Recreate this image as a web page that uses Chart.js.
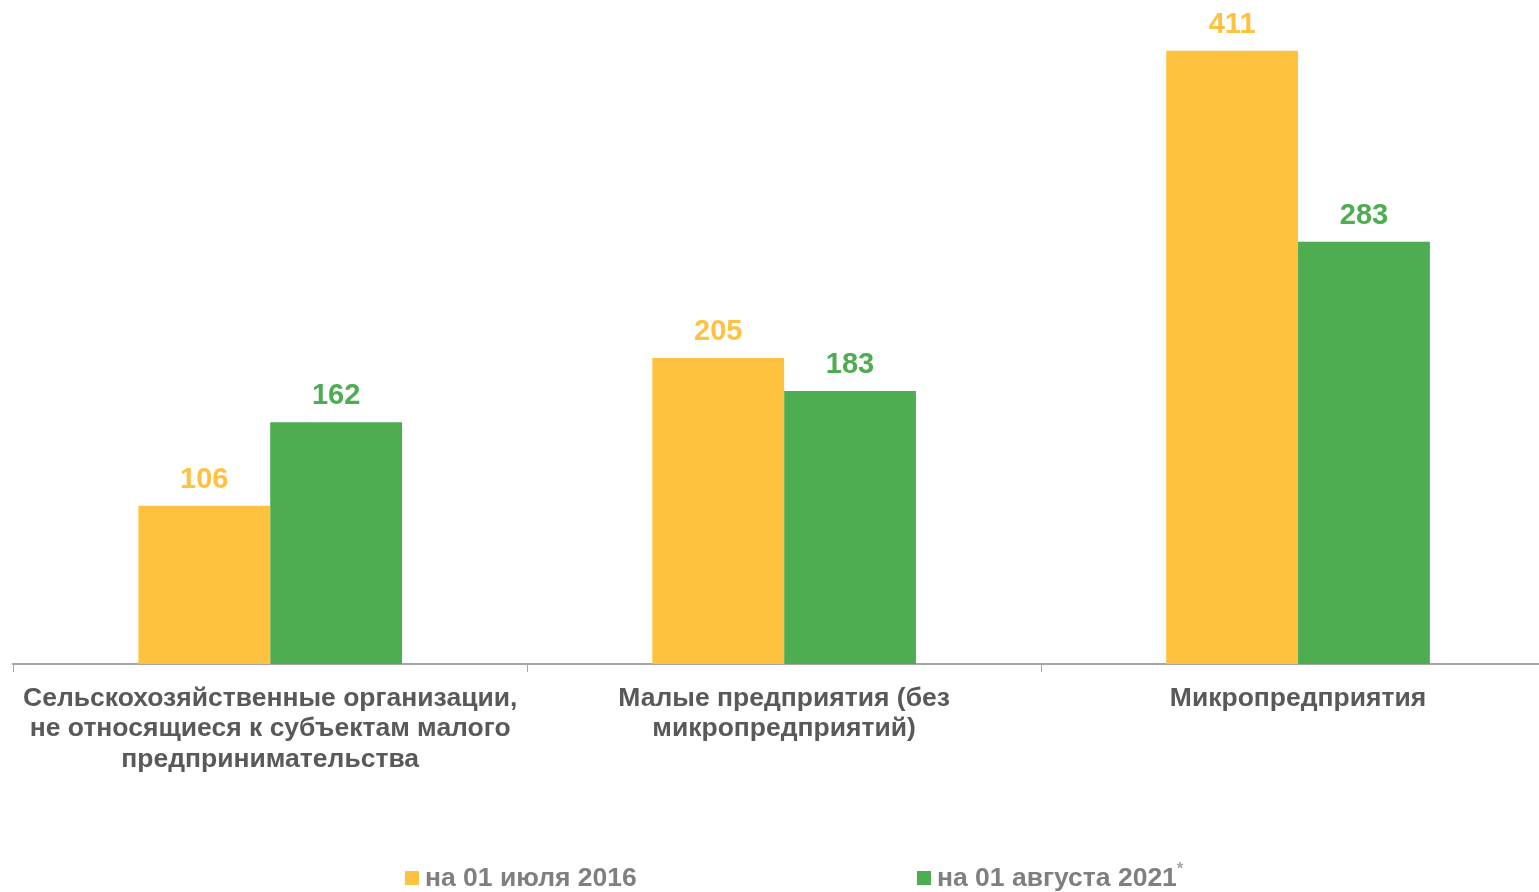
<!DOCTYPE html>
<html>
<head>
<meta charset="utf-8">
<script src="https://cdn.jsdelivr.net/npm/chart.js@4/dist/chart.umd.min.js"></script>
<style>
  html, body { margin: 0; padding: 0; background: #fff; overflow: hidden; }
  body { width: 1539px; height: 892px; position: relative; font-family: "Liberation Sans", Arial, sans-serif; }
  .wrap { position: absolute; left: 12px; top: 0; width: 1543px; height: 892px; }
  .legend { position: absolute; top: 862px; left: 0; width: 1539px; height: 30px; font-weight: bold; font-size: 26.5px; color: #7f7f7f; }
  .legend .item { position: absolute; top: 0; white-space: nowrap; line-height: 30px; height: 30px; }
  .legend .box { display: inline-block; width: 14px; height: 14px; margin-right: 6px; vertical-align: 1px; }
  .legend .star { position: relative; top: -12px; font-size: 17px; margin-left: 0; line-height: 0; color: #a6a6a6; }
</style>
</head>
<body>
<div class="wrap"><canvas id="myChart"></canvas></div>
<div class="legend">
  <div class="item" style="left:405px"><span class="box" style="background:#FFC240"></span>на 01 июля 2016</div>
  <div class="item" style="left:917px"><span class="box" style="background:#4EAD50"></span>на 01 августа 2021<span class="star">*</span></div>
</div>
<script>
const categories = [
    ["Сельскохозяйственные организации,", "не относящиеся к субъектам малого", "предпринимательства"],
    ["Малые предприятия (без", "микропредприятий)"],
    ["Микропредприятия"]
];
const seriesNames = ["на 01 июля 2016", "на 01 августа 2021"];
const values2016 = [106, 205, 411];
const values2021 = [162, 183, 283];
const seriesColors = ["#FFC240", "#4EAD50"];

// value labels above the bars
const barLabels = {
    id: "barLabels",
    afterDatasetsDraw(chart) {
        const ctx = chart.ctx;
        ctx.save();
        ctx.font = "bold 29px 'Liberation Sans', Arial, sans-serif";
        ctx.textAlign = "center";
        ctx.textBaseline = "middle";
        chart.data.datasets.forEach((ds, di) => {
            chart.getDatasetMeta(di).data.forEach((bar, i) => {
                ctx.fillStyle = ds.backgroundColor;
                ctx.fillText(ds.data[i], bar.x, bar.y - 26);
            });
        });
        ctx.restore();
    }
};

const ctx = document.getElementById("myChart").getContext("2d");
const myChart = new Chart(ctx, {
    type: "bar",
    data: {
        labels: categories,
        datasets: [
            { label: seriesNames[0], data: values2016, backgroundColor: seriesColors[0], borderWidth: 0 },
            { label: seriesNames[1], data: values2021, backgroundColor: seriesColors[1], borderWidth: 0 }
        ]
    },
    options: {
        responsive: true,
        maintainAspectRatio: false,
        animation: false,
        categoryPercentage: 0.513,
        barPercentage: 1,
        layout: { padding: 0 },
        plugins: {
            legend: { display: false },
            tooltip: { enabled: false }
        },
        scales: {
            x: {
                afterFit(scale) { scale.height = 228; },
                border: { display: true, color: "#a6a6a6", width: 2 },
                grid: { display: true, offset: true, drawOnChartArea: false, drawTicks: true, tickLength: 8, color: "#a6a6a6", lineWidth: 1 },
                ticks: {
                    color: "#595959",
                    padding: 11,
                    maxRotation: 0,
                    autoSkip: false,
                    font: { family: "'Liberation Sans', Arial, sans-serif", size: 26.5, weight: "bold", lineHeight: "30.5px" }
                }
            },
            y: {
                display: false,
                min: 0,
                max: 445
            }
        }
    },
    plugins: [barLabels]
});
</script>
</body>
</html>
